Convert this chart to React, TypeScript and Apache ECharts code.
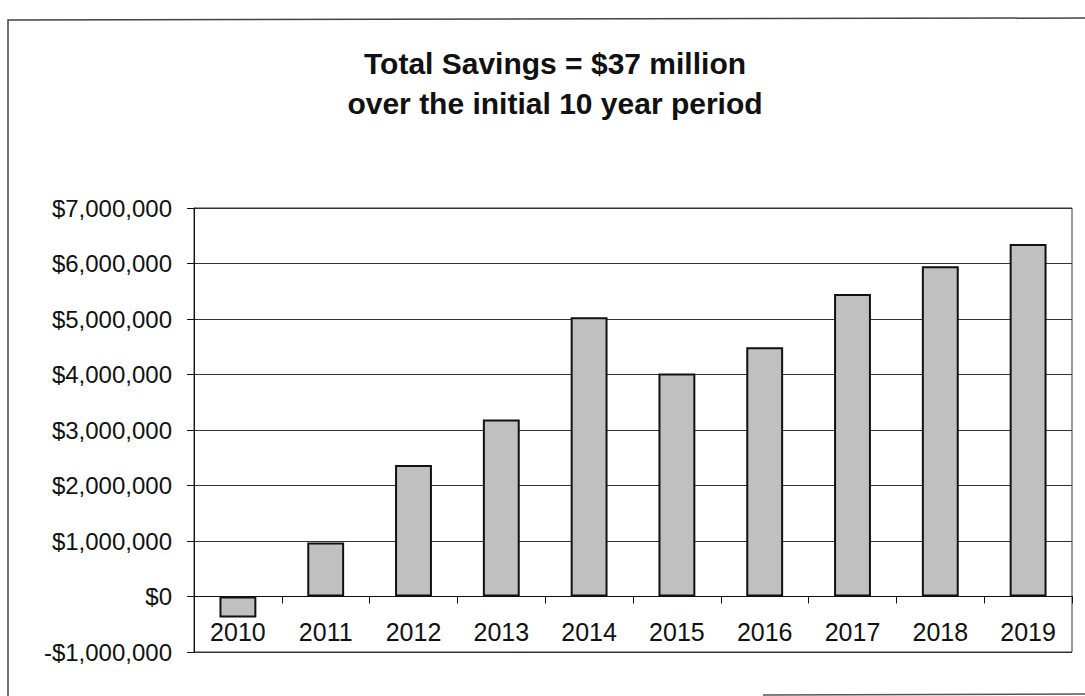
import React, { useEffect, useRef } from "react";
import * as echarts from "echarts";

const years = ["2010", "2011", "2012", "2013", "2014", "2015", "2016", "2017", "2018", "2019"];
const savings = [-380000, 975000, 2370000, 3190000, 5030000, 4020000, 4490000, 5450000, 5950000, 6350000];
const titleLines = ["Total Savings = $37 million", "over the initial 10 year period"];
const yMin = -1000000;
const yMax = 7000000;
const yStep = 1000000;

function money(v: number): string {
  const s = Math.abs(Math.round(v)).toString().replace(/\B(?=(\d{3})+(?!\d))/g, ",");
  return (v < 0 ? "-$" : "$") + s;
}

export default function App() {
  const ref = useRef<HTMLDivElement>(null);
  useEffect(() => {
    document.body.style.margin = "0";
    const chart = echarts.init(ref.current!, null, { renderer: "svg" });
    const font = "'Liberation Sans', Arial, sans-serif";
    chart.setOption({
      animation: false,
      backgroundColor: "#ffffff",
      grid: {
        left: 194,
        right: 13,
        top: 208,
        bottom: 44,
        show: true,
        borderColor: "#333",
        borderWidth: 1,
        outerBoundsMode: "none",
      },
      xAxis: {
        type: "category",
        data: years,
        boundaryGap: true,
        axisLine: { onZero: true, lineStyle: { color: "#111", width: 1 } },
        axisTick: { show: true, inside: false, length: 7, alignWithLabel: false, lineStyle: { color: "#111" } },
        axisLabel: { color: "#111", fontSize: 25, fontFamily: font, margin: -33 },
        splitLine: { show: false },
      },
      yAxis: {
        type: "value",
        min: yMin,
        max: yMax,
        interval: yStep,
        axisLine: { show: true, lineStyle: { color: "#111", width: 1 } },
        axisTick: { show: true, length: 7, lineStyle: { color: "#111" } },
        axisLabel: { color: "#111", fontSize: 24, fontFamily: font, margin: 22, formatter: (v: number) => money(v) },
        splitLine: { show: true, lineStyle: { color: "#333", width: 1 } },
      },
      series: [
        {
          type: "bar",
          data: savings,
          barWidth: "42%",
          itemStyle: { color: "#c0c0c0", borderColor: "#111", borderWidth: 2 },
        },
      ],
      graphic: [
        {
          type: "polyline",
          shape: { points: [[8, 696], [8, 20], [1085, 18]] },
          style: { stroke: "#444", lineWidth: 1.5, fill: null },
          silent: true,
        },
        {
          type: "line",
          shape: { x1: 763, y1: 695, x2: 1085, y2: 694 },
          style: { stroke: "#555", lineWidth: 1.5 },
          silent: true,
        },
        {
          type: "text",
          x: 555,
          y: 63,
          style: {
            text: titleLines[0],
            font: "bold 30px 'Liberation Sans', Arial, sans-serif",
            fill: "#111",
            textAlign: "center",
            textVerticalAlign: "middle",
          },
        },
        {
          type: "text",
          x: 555,
          y: 103,
          style: {
            text: titleLines[1],
            font: "bold 30px 'Liberation Sans', Arial, sans-serif",
            fill: "#111",
            textAlign: "center",
            textVerticalAlign: "middle",
          },
        },
      ],
    });
    return () => chart.dispose();
  }, []);
  return <div ref={ref} style={{ width: 1085, height: 696 }} />;
}
